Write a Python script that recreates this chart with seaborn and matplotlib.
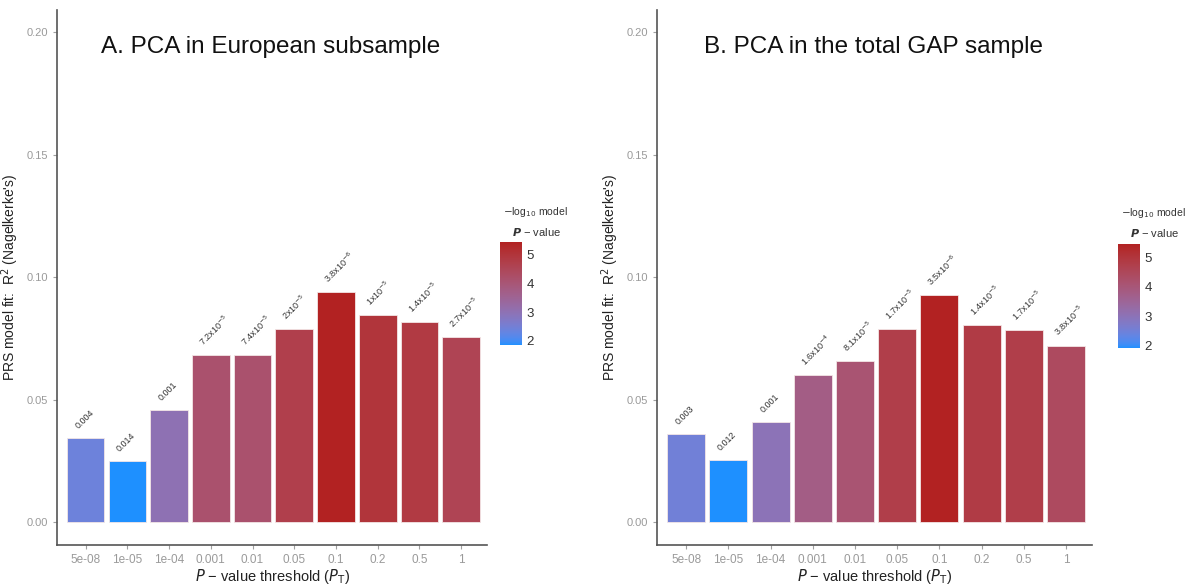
import numpy as np
import pandas as pd
import matplotlib
matplotlib.use("Agg")
import matplotlib.pyplot as plt
import seaborn as sns
from matplotlib.colors import ListedColormap, Normalize
from matplotlib.cm import ScalarMappable

thresholds = ["5e-08", "1e-05", "1e-04", "0.001", "0.01", "0.05", "0.1", "0.2", "0.5", "1"]

r2_a = [0.0343, 0.0249, 0.0457, 0.0680, 0.0680, 0.0788, 0.0938, 0.0845, 0.0816, 0.0755]
p_a = [0.004, 0.014, 0.001, 7.2e-5, 7.4e-5, 2e-5, 3.8e-6, 1e-5, 1.4e-5, 2.7e-5]
lab_a = ["0.004", "0.014", "0.001", r"7.2x10$^{-5}$", r"7.4x10$^{-5}$", r"2x10$^{-5}$",
         r"3.8x10$^{-6}$", r"1x10$^{-5}$", r"1.4x10$^{-5}$", r"2.7x10$^{-5}$"]

r2_b = [0.0359, 0.0253, 0.0408, 0.0600, 0.0657, 0.0788, 0.0927, 0.0804, 0.0784, 0.0720]
p_b = [0.003, 0.012, 0.001, 1.6e-4, 8.1e-5, 1.7e-5, 3.5e-6, 1.4e-5, 1.7e-5, 3.8e-5]
lab_b = ["0.003", "0.012", "0.001", r"1.6x10$^{-4}$", r"8.1x10$^{-5}$", r"1.7x10$^{-5}$",
         r"3.5x10$^{-6}$", r"1.4x10$^{-5}$", r"1.7x10$^{-5}$", r"3.8x10$^{-5}$"]

titles = ["A. PCA in European subsample", "B. PCA in the total GAP sample"]

# ---- Lab-space gradient (like ggplot scale_fill_gradient) ----
def hex2rgb(h):
    h = h.lstrip("#")
    return np.array([int(h[i:i + 2], 16) / 255 for i in (0, 2, 4)])

M = np.array([[0.4124, 0.3576, 0.1805], [0.2126, 0.7152, 0.0722], [0.0193, 0.1192, 0.9505]])
WHITE = np.array([0.95047, 1.0, 1.08883])

def rgb2lab(c):
    lin = np.where(c <= 0.04045, c / 12.92, ((c + 0.055) / 1.055) ** 2.4)
    xyz = M @ lin / WHITE
    f = np.where(xyz > 0.008856, np.cbrt(xyz), 7.787 * xyz + 16 / 116)
    return np.array([116 * f[1] - 16, 500 * (f[0] - f[1]), 200 * (f[1] - f[2])])

def lab2rgb(lab):
    fy = (lab[..., 0] + 16) / 116
    fx = fy + lab[..., 1] / 500
    fz = fy - lab[..., 2] / 200
    f = np.stack([fx, fy, fz], -1)
    xyz = np.where(f ** 3 > 0.008856, f ** 3, (f - 16 / 116) / 7.787) * WHITE
    lin = xyz @ np.linalg.inv(M).T
    lin = np.clip(lin, 0, 1)
    c = np.where(lin <= 0.0031308, 12.92 * lin, 1.055 * lin ** (1 / 2.4) - 0.055)
    return np.clip(c, 0, 1)

lo, hi = rgb2lab(hex2rgb("#1E90FF")), rgb2lab(hex2rgb("#B22222"))
t = np.linspace(0, 1, 256)[:, None]
cmap = ListedColormap(lab2rgb(lo + (hi - lo) * t))

sns.set_style("white")
plt.rcParams["font.family"] = ["Liberation Sans", "DejaVu Sans"]

fig = plt.figure(figsize=(11.91, 5.88), dpi=100)
axes_pos = [[0.048, 0.073, 0.361, 0.910], [0.552, 0.073, 0.365, 0.910]]
cbar_pos = [[0.420, 0.413, 0.018, 0.175], [0.939, 0.408, 0.018, 0.177]]

for k, (r2, pv, labs) in enumerate([(r2_a, p_a, lab_a), (r2_b, p_b, lab_b)]):
    ax = fig.add_axes(axes_pos[k])
    logp = -np.log10(np.array(pv))
    norm = Normalize(vmin=logp.min(), vmax=logp.max())
    colors = [cmap(norm(v)) for v in logp]
    df = pd.DataFrame({"thr": thresholds, "r2": r2})
    sns.barplot(data=df, x="thr", y="r2", hue="thr", palette=colors, legend=False,
                width=0.9, edgecolor="#f3e6e6", linewidth=0.6, ax=ax, saturation=1)
    for i, (v, s) in enumerate(zip(r2, labs)):
        ax.text(i - 0.14, v + 0.003, s, rotation=45, ha="left", va="bottom",
                fontsize=6.5, color="#333333", rotation_mode="anchor")
    ax.set_ylim(-0.0094, 0.209)
    ax.set_xlim(-0.68, 9.62)
    ax.set_yticks([0.0, 0.05, 0.10, 0.15, 0.20])
    ax.set_yticklabels(["0.00", "0.05", "0.10", "0.15", "0.20"])
    ax.tick_params(axis="both", colors="#a0a0a0", labelsize=8, length=3, width=0.8,
                   left=True, bottom=True, labelcolor="#9a9a9a")
    ax.tick_params(axis="x", labelsize=8.5)
    for sp in ["top", "right"]:
        ax.spines[sp].set_visible(False)
    for sp in ["left", "bottom"]:
        ax.spines[sp].set_color("#555555")
        ax.spines[sp].set_linewidth(1.2)
    ax.set_ylabel("PRS model fit:  R$^2$ (Nagelkerke's)", fontsize=10, color="#222222",
                  labelpad=4)
    ax.set_xlabel(r"$P$ − value threshold ($P_\mathrm{T}$)", fontsize=10.5,
                  color="#222222", labelpad=1)
    ax.text(0.497, 0.93, titles[k], transform=ax.transAxes, ha="center", va="center",
            fontsize=17.5, color="#111111")

    cax = fig.add_axes(cbar_pos[k])
    sm = ScalarMappable(norm=norm, cmap=cmap)
    cb = fig.colorbar(sm, cax=cax, ticks=[2, 3, 4, 5])
    cb.outline.set_visible(False)
    cax.tick_params(labelsize=9.5, colors="#ffffff", labelcolor="#333333", length=3,
                    direction="in", width=0.8)
    cx = cbar_pos[k][0]
    top = cbar_pos[k][1] + cbar_pos[k][3]
    fig.text(cx + 0.002, top + 0.052, r"$-$log$_{10}$ model", fontsize=7.5,
             ha="left", va="center", color="#333333")
    fig.text(cx + 0.010, top + 0.018, r"$\boldsymbol{P}$ − value", fontsize=8,
             ha="left", va="center", color="#333333")

fig.savefig("out.png", dpi=100)
